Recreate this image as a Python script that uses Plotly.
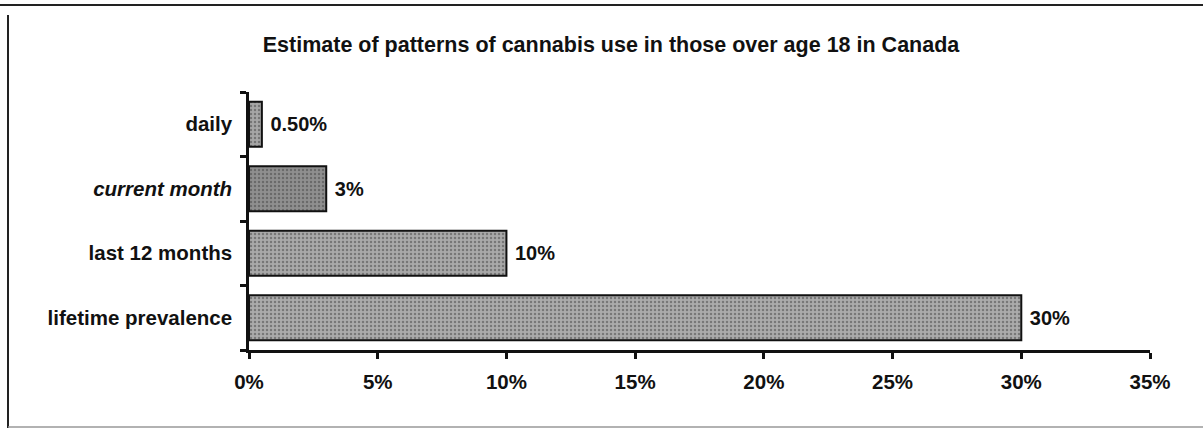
import plotly.graph_objects as go

# Patterns of cannabis use, adults over 18, Canada
categories = ["daily", "<i>current month</i>", "last 12 months", "lifetime prevalence"]
values = [0.5, 3, 10, 30]
value_labels = ["0.50%", "3%", "10%", "30%"]
tick_values = [0, 5, 10, 15, 20, 25, 30, 35]
tick_labels = ["0%", "5%", "10%", "15%", "20%", "25%", "30%", "35%"]

bar_colors = ["#a6a6a6", "#8f8f8f", "#a9a9a9", "#ababab"]

FONT = "Liberation Sans, Arial, sans-serif"

fig = go.Figure()
fig.add_trace(go.Bar(
    x=values,
    y=categories,
    orientation="h",
    width=0.7,
    marker=dict(
        color=bar_colors,
        line=dict(color="#111111", width=2),
        pattern=dict(shape=".", fgcolor="#d0d0d0", bgcolor="#9a9a9a", size=4, solidity=0.3),
    ),
    text=["<b> %s</b>" % t for t in value_labels],
    textposition="outside",
    textfont=dict(family=FONT, size=20, color="#111111"),
    cliponaxis=False,
    hoverinfo="skip",
))

fig.update_layout(
    width=1203,
    height=432,
    margin=dict(l=249, r=53, t=92, b=82),
    paper_bgcolor="#ffffff",
    plot_bgcolor="#ffffff",
    showlegend=False,
    bargap=0.3,
    font=dict(family=FONT, color="#111111"),
    title=dict(
        text="<b>Estimate of patterns of cannabis use in those over age 18 in Canada</b>",
        font=dict(family=FONT, size=21.5, color="#111111"),
        x=611 / 1203, xanchor="center",
        y=1 - 44 / 432, yanchor="middle", yref="container",
    ),
    xaxis=dict(
        range=[0, 35],
        tickvals=tick_values,
        ticktext=["<b>%s</b>" % t for t in tick_labels],
        tickfont=dict(family=FONT, size=20.5, color="#111111"),
        showgrid=False,
        zeroline=False,
        showline=True,
        linecolor="#111111",
        linewidth=2.5,
        ticks="outside",
        ticklen=6,
        tickwidth=2.5,
        tickcolor="#111111",
        ticklabelstandoff=6,
    ),
    yaxis=dict(
        categoryorder="array",
        categoryarray=categories,
        autorange="reversed",
        tickfont=dict(family=FONT, size=20.5, color="#111111"),
        ticktext=["<b>%s</b>" % c for c in categories],
        tickvals=categories,
        showgrid=False,
        zeroline=False,
        showline=True,
        linecolor="#111111",
        linewidth=2.5,
        ticks="outside",
        tickson="boundaries",
        ticklen=6,
        tickwidth=2.5,
        tickcolor="#111111",
        ticklabelstandoff=10,
    ),
)

# Outer frame of the chart box
fig.add_shape(type="line", xref="paper", yref="paper",
              x0=-249 / 901, x1=(1203 - 249) / 901, y0=1 + 87 / 258, y1=1 + 87 / 258,
              line=dict(color="#222222", width=2))
fig.add_shape(type="line", xref="paper", yref="paper",
              x0=-241 / 901, x1=-241 / 901, y0=1 + 77 / 258, y1=-78 / 258,
              line=dict(color="#222222", width=2))
fig.add_shape(type="line", xref="paper", yref="paper",
              x0=-241 / 901, x1=(1203 - 249) / 901, y0=-77 / 258, y1=-77 / 258,
              line=dict(color="#999999", width=1.5))

fig.write_html("out.html")
